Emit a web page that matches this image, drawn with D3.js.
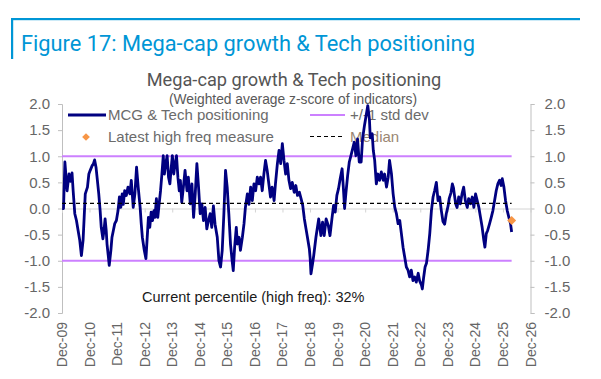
<!DOCTYPE html>
<html>
<head>
<meta charset="utf-8">
<script src="https://cdn.jsdelivr.net/npm/d3@7"></script>
<style>
  body { margin: 0; background: #fff; }
  svg { display: block; }
  text { font-family: "Liberation Sans", Arial, sans-serif; }
</style>
</head>
<body>
<div id="chart"></div>
<script>
// decimal years
var dates = [
  2009.92, 2009.97, 2010.02, 2010.10, 2010.17, 2010.22, 2010.28, 2010.32, 2010.38, 2010.44,
  2010.50, 2010.56, 2010.62, 2010.68, 2010.72, 2010.76, 2010.84, 2010.89, 2010.94, 2011.01,
  2011.05, 2011.10, 2011.15, 2011.20, 2011.25, 2011.30, 2011.34, 2011.40, 2011.44, 2011.48,
  2011.52, 2011.55, 2011.60, 2011.63, 2011.69, 2011.73, 2011.78, 2011.83, 2011.89, 2011.95,
  2012.00, 2012.05, 2012.10, 2012.14, 2012.19, 2012.25, 2012.31, 2012.38, 2012.43, 2012.50,
  2012.56, 2012.62, 2012.68, 2012.75, 2012.79, 2012.83, 2012.90, 2012.96, 2013.00, 2013.05,
  2013.10, 2013.15, 2013.20, 2013.25, 2013.29, 2013.34, 2013.39, 2013.44, 2013.49, 2013.54,
  2013.59, 2013.63, 2013.68, 2013.73, 2013.78, 2013.83, 2013.88, 2013.92, 2013.97, 2014.02,
  2014.07, 2014.12, 2014.17, 2014.21, 2014.26, 2014.32, 2014.38, 2014.45, 2014.50, 2014.57,
  2014.63, 2014.69, 2014.75, 2014.81, 2014.87, 2014.93, 2014.99, 2015.05, 2015.11, 2015.17,
  2015.23, 2015.29, 2015.35, 2015.41, 2015.47, 2015.55, 2015.61, 2015.67, 2015.73, 2015.79,
  2015.85, 2015.91, 2015.97, 2016.03, 2016.09, 2016.13, 2016.18, 2016.24, 2016.28, 2016.34,
  2016.39, 2016.46, 2016.52, 2016.57, 2016.64, 2016.70, 2016.76, 2016.82, 2016.88, 2016.94,
  2017.00, 2017.06, 2017.12, 2017.18, 2017.24, 2017.30, 2017.36, 2017.42, 2017.48, 2017.54,
  2017.61, 2017.66, 2017.73, 2017.79, 2017.85, 2017.91, 2017.97, 2018.03, 2018.09, 2018.15,
  2018.21, 2018.27, 2018.34, 2018.40, 2018.46, 2018.53, 2018.59, 2018.65, 2018.71, 2018.77,
  2018.83, 2018.89, 2018.92, 2018.95, 2019.01, 2019.05, 2019.13, 2019.23, 2019.31, 2019.37,
  2019.43, 2019.50, 2019.58, 2019.64, 2019.71, 2019.77, 2019.83, 2019.89, 2019.95, 2020.01,
  2020.08, 2020.12, 2020.17, 2020.22, 2020.28, 2020.34, 2020.40, 2020.46, 2020.52, 2020.58,
  2020.64, 2020.70, 2020.77, 2020.82, 2020.89, 2020.95, 2021.01, 2021.07, 2021.10, 2021.17,
  2021.21, 2021.26, 2021.32, 2021.38, 2021.44, 2021.50, 2021.57, 2021.62, 2021.69, 2021.75,
  2021.80, 2021.87, 2021.93, 2021.99, 2022.05, 2022.11, 2022.17, 2022.23, 2022.29, 2022.35,
  2022.41, 2022.47, 2022.53, 2022.59, 2022.65, 2022.71, 2022.77, 2022.84, 2022.89, 2022.96,
  2022.99, 2023.04, 2023.09, 2023.14, 2023.20, 2023.26, 2023.32, 2023.38, 2023.44, 2023.50,
  2023.56, 2023.62, 2023.68, 2023.74, 2023.80, 2023.86, 2023.93, 2023.97, 2024.03, 2024.08,
  2024.12, 2024.15, 2024.20, 2024.25, 2024.31, 2024.37, 2024.43, 2024.49, 2024.55, 2024.62,
  2024.67, 2024.74, 2024.80, 2024.86, 2024.92, 2024.98, 2025.04, 2025.10, 2025.16, 2025.22,
  2025.26, 2025.31, 2025.36, 2025.43, 2025.49, 2025.55, 2025.61, 2025.67, 2025.73, 2025.79,
  2025.85, 2025.89, 2025.95, 2026.01, 2026.07, 2026.13, 2026.19, 2026.23
];
var positioning = [
  0.00, 0.00, 0.89, 0.34, 0.66, 0.52, 0.68, 0.34, -0.10, -0.23,
  -0.42, -0.61, -0.90, -0.61, -0.17, 0.28, 0.41, 0.66, 0.73, 0.82,
  0.85, 0.93, 0.79, 0.54, 0.28, -0.04, -0.36, -0.58, -0.42, -0.20,
  -0.42, -0.68, -0.93, -1.09, -0.80, -0.55, -0.42, -0.29, -0.23, -0.04,
  0.22, 0.02, 0.28, 0.08, 0.34, 0.25, 0.41, 0.28, 0.54, 0.02,
  0.28, 0.79, 0.41, 0.02, -0.29, -0.55, -0.80, -0.96, -0.61, -0.17,
  -0.36, -0.07, -0.23, -0.04, -0.17, 0.19, -0.17, 0.09, 0.34, 0.66,
  1.01, 0.66, 0.86, 1.01, 0.60, 0.47, 0.79, 1.01, 0.66, 0.86,
  1.01, 0.60, 0.34, 0.54, 0.12, 0.41, 0.73, 0.34, 0.60, 0.09,
  0.47, -0.17, 0.28, 0.86, 0.41, -0.10, 0.09, -0.23, 0.02, -0.39,
  -0.23, -0.10, -0.36, 0.05, -0.30, -0.55, -1.00, -1.12, -0.80, -0.10,
  0.73, 0.41, -0.10, -0.68, -1.00, -1.19, -0.74, -0.36, -0.68, -0.55,
  -0.80, -0.55, -0.29, 0.02, 0.28, 0.08, 0.41, 0.15, 0.47, 0.34,
  0.60, 0.47, 0.60, 0.34, 0.66, 0.92, 0.73, 0.47, 0.22, 0.41,
  0.15, 0.47, 0.86, 1.11, 0.86, 1.24, 0.92, 0.66, 0.86, 0.54,
  0.38, 0.50, 0.31, 0.44, 0.25, 0.31, 0.19, 0.06, -0.20, -0.39,
  -0.58, -0.77, -0.95, -1.25, -1.05, -0.90, -0.55, -0.20, -0.52, -0.26,
  -0.52, -0.20, -0.33, -0.52, -0.20, 0.06, -0.07, 0.25, 0.38, 0.57,
  0.76, 0.44, 0.00, 0.31, 0.63, 0.89, 1.01, 1.14, 1.27, 1.01,
  1.33, 0.89, 0.89, 1.33, 1.59, 1.78, 1.97, 1.70, 1.35, 1.43,
  1.11, 0.92, 0.47, 0.66, 0.54, 0.70, 0.54, 0.66, 0.41, 0.60,
  0.92, 0.66, 0.28, 0.02, -0.10, -0.29, -0.23, -0.48, -0.74, -0.93,
  -1.12, -1.18, -1.31, -1.18, -1.38, -1.31, -1.41, -1.24, -1.38, -1.47,
  -1.54, -1.31, -1.12, -1.05, -0.80, -0.48, -0.04, 0.22, 0.35, 0.50,
  0.15, 0.22, -0.04, -0.25, -0.30, -0.10, 0.06, 0.20, 0.30, 0.47,
  0.40, 0.28, 0.09, 0.02, 0.22, 0.09, 0.28, 0.41, 0.15, 0.02,
  0.19, 0.09, 0.22, 0.02, 0.28, 0.15, 0.02, -0.17, -0.36, -0.61,
  -0.74, -0.48, -0.42, -0.29, -0.17, -0.04, 0.15, 0.34, 0.47, 0.54,
  0.44, 0.57, 0.41, 0.15, -0.04, -0.17, -0.29, -0.45
];
var latestDate = 2026.23, latestValue = -0.23;
var stdBands = [1, -1];
var median = 0.10;
var yTicks = [2.0, 1.5, 1.0, 0.5, 0.0, -0.5, -1.0, -1.5, -2.0];
var tickYears = d3.range(2009, 2027);
var percentileText = "Current percentile (high freq): 32%";

function yearToDate(t) {
  var yy = Math.floor(t), s = new Date(yy, 0, 1), e = new Date(yy + 1, 0, 1);
  return new Date(+s + (t - yy) * (e - s));
}

var W = 601, H = 379;
var plotLeft = 62, plotRight = 530.5, plotTop = 104, plotBottom = 313;

var svg = d3.select("#chart").append("svg").attr("width", W).attr("height", H);
svg.append("rect").attr("width", W).attr("height", H).attr("fill", "#fff");

// header
var blue = "#0096d6";
svg.append("rect").attr("x", 12).attr("y", 18).attr("width", 568).attr("height", 2.2).attr("fill", blue);
svg.append("rect").attr("x", 11).attr("y", 18).attr("width", 2.2).attr("height", 41).attr("fill", blue);
svg.append("text").attr("x", 21).attr("y", 51)
  .style("font-family", "Roboto, sans-serif").style("font-size", "21.8px").attr("fill", blue)
  .text("Figure 17: Mega-cap growth & Tech positioning");

svg.append("text").attr("x", 294).attr("y", 86).attr("text-anchor", "middle")
  .style("font-family", "Roboto, sans-serif").style("font-size", "18.2px").attr("fill", "#555")
  .text("Mega-cap growth & Tech positioning");
svg.append("text").attr("x", 293).attr("y", 104).attr("text-anchor", "middle")
  .style("font-size", "13.8px").attr("fill", "#595959")
  .text("(Weighted average z-score of indicators)");

var x = d3.scaleTime().domain([new Date(2009, 11, 1), new Date(2026, 11, 1)]).range([plotLeft, plotRight]);
var y = d3.scaleLinear().domain([-2, 2]).range([plotBottom, plotTop]);

var axisColor = "#bfbfbf", labelColor = "#666";

// left / right axes
var yl = svg.append("g").attr("transform", "translate(" + plotLeft + ",0)")
  .call(d3.axisLeft(y).tickValues(yTicks).tickSize(4).tickPadding(8));
var yr = svg.append("g").attr("transform", "translate(" + plotRight + ",0)")
  .call(d3.axisRight(y).tickValues(yTicks).tickSize(4).tickPadding(10));
[yl, yr].forEach(function (g) {
  g.select(".domain").attr("stroke", axisColor);
  g.selectAll(".tick line").attr("stroke", axisColor);
  g.selectAll(".tick text").attr("fill", labelColor).style("font-size", "15px")
    .style("font-family", "'Liberation Sans', Arial, sans-serif")
    .text(function (d) { return d.toFixed(1); });
});

// x axis through zero
var xa = svg.append("g").attr("transform", "translate(0," + y(0) + ")")
  .call(d3.axisBottom(x).tickValues(tickYears.map(function (yy) { return new Date(yy, 11, 1); }))
    .tickSize(4).tickFormat(""));
xa.select(".domain").attr("stroke", "#d4d4d4");
xa.selectAll(".tick line").attr("stroke", "#d4d4d4");

// x labels, rotated, below the plot
svg.append("g").selectAll("text").data(tickYears).join("text")
  .attr("transform", function (d) { return "translate(" + (x(new Date(d, 11, 1)) + 5) + ",322) rotate(-90)"; })
  .attr("text-anchor", "end")
  .style("font-size", "14px").attr("fill", labelColor)
  .text(function (d) { return d3.timeFormat("%b-%y")(new Date(d, 11, 1)); });

// +/- 1 std dev
svg.append("g").selectAll("line").data(stdBands).join("line")
  .attr("x1", plotLeft).attr("x2", x(yearToDate(latestDate)))
  .attr("y1", function (d) { return y(d); }).attr("y2", function (d) { return y(d); })
  .attr("stroke", "#cc80ff").attr("stroke-width", 2);

// excel-style diamond: square turned 45 degrees
var diamond = d3.symbol(d3.symbolSquare, 30);
var orange = "#f79646";

// legend (sits under the line)
var legText = "#6b6b6b";
var leg = svg.append("g").style("font-size", "15px");
leg.append("line").attr("x1", 68).attr("x2", 106).attr("y1", 115).attr("y2", 115)
  .attr("stroke", "#000080").attr("stroke-width", 3);
leg.append("text").attr("x", 108).attr("y", 120).attr("fill", legText).text("MCG & Tech positioning");
leg.append("path").attr("d", diamond()).attr("transform", "translate(86,137) rotate(45)")
  .attr("fill", orange);
leg.append("text").attr("x", 108).attr("y", 142).attr("fill", legText).text("Latest high freq measure");
leg.append("line").attr("x1", 310).attr("x2", 345).attr("y1", 115).attr("y2", 115)
  .attr("stroke", "#cc80ff").attr("stroke-width", 2);
leg.append("text").attr("x", 350).attr("y", 120).attr("fill", legText).text("+/-1 std dev");
leg.append("line").attr("x1", 310).attr("x2", 345).attr("y1", 136.5).attr("y2", 136.5)
  .attr("stroke", "#000").attr("stroke-width", 1.2).attr("stroke-dasharray", "4,3");
leg.append("text").attr("x", 350).attr("y", 142).attr("fill", "#9a8672").text("Median");

// series
var series = dates.map(function (d, i) { return { date: yearToDate(d), value: positioning[i] }; });
svg.append("path").datum(series)
  .attr("fill", "none").attr("stroke", "#000080").attr("stroke-width", 2.8).attr("stroke-linejoin", "round")
  .attr("d", d3.line().x(function (d) { return x(d.date); }).y(function (d) { return y(d.value); }));

// median
svg.append("line").attr("x1", plotLeft).attr("x2", x(yearToDate(latestDate)))
  .attr("y1", y(median)).attr("y2", y(median))
  .attr("stroke", "#000").attr("stroke-width", 1.2).attr("stroke-dasharray", "4,3");

// latest high freq point
svg.append("path").attr("d", d3.symbol(d3.symbolSquare, 40)())
  .attr("transform", "translate(" + x(yearToDate(latestDate)) + "," + y(latestValue) + ") rotate(45)")
  .attr("fill", orange);

svg.append("text").attr("x", 142).attr("y", 302).style("font-size", "14.5px").attr("fill", "#1a1a1a")
  .text(percentileText);
</script>
</body>
</html>
